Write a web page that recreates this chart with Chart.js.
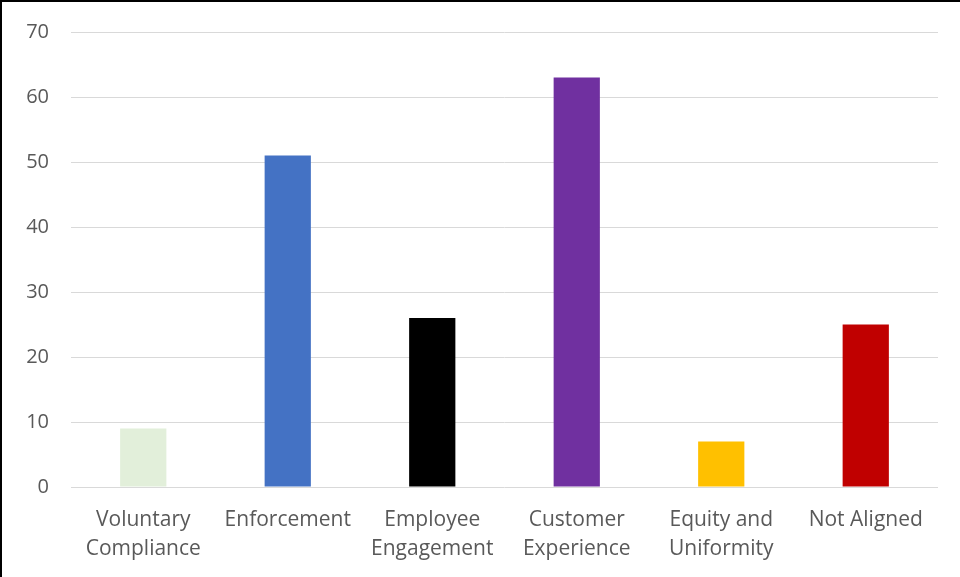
<!DOCTYPE html>
<html>
<head>
<meta charset="utf-8">
<script src="https://cdn.jsdelivr.net/npm/chart.js@4/dist/chart.umd.min.js"></script>
<style>
  html, body { margin: 0; padding: 0; background: #fff; }
  #wrap {
    position: absolute; left: 0; top: 0;
    width: 958px; height: 575px;
    border-left: 2px solid #000; border-top: 2px solid #000;
  }
</style>
</head>
<body>
<div id="wrap"><canvas id="chart" width="958" height="575"></canvas></div>
<script>
// Categories and counts
var categories = [
  ['Voluntary', 'Compliance'],
  'Enforcement',
  ['Employee', 'Engagement'],
  ['Customer', 'Experience'],
  ['Equity and', 'Uniformity'],
  'Not Aligned'
];
var counts = [9, 51, 26, 63, 7, 25];
var barColors = ['#E2EFDA', '#4472C4', '#000000', '#7030A0', '#FFC000', '#C00000'];
var yTicks = [0, 10, 20, 30, 40, 50, 60, 70];

var ctx = document.getElementById('chart').getContext('2d');
var chart = new Chart(ctx, {
  type: 'bar',
  data: {
    labels: categories,
    datasets: [{
      data: counts,
      backgroundColor: barColors,
      borderWidth: 0,
      categoryPercentage: 1,
      barPercentage: 0.32
    }]
  },
  options: {
    responsive: false,
    animation: false,
    layout: { padding: { top: 30, right: 22, left: 0, bottom: 0 } },
    plugins: { legend: { display: false }, tooltip: { enabled: false } },
    scales: {
      y: {
        min: 0,
        max: 70,
        afterBuildTicks: function (axis) {
          axis.ticks = yTicks.map(function (v) { return { value: v }; });
        },
        afterFit: function (axis) {
          axis.width = 69;
          axis.paddingTop = 0;
          axis.paddingBottom = 0;
        },
        border: { display: false },
        grid: { color: '#D9D9D9', lineWidth: 1, drawTicks: false },
        ticks: {
          padding: 22,
          color: '#595959',
          font: { family: 'Open Sans', size: 20 }
        }
      },
      x: {
        afterFit: function (axis) { axis.height = 90; },
        border: { display: false },
        grid: { display: false },
        ticks: {
          padding: 11,
          maxRotation: 0,
          autoSkip: false,
          color: '#595959',
          font: { family: 'Open Sans', size: 21, lineHeight: 1.35 }
        }
      }
    }
  }
});
</script>
</body>
</html>
